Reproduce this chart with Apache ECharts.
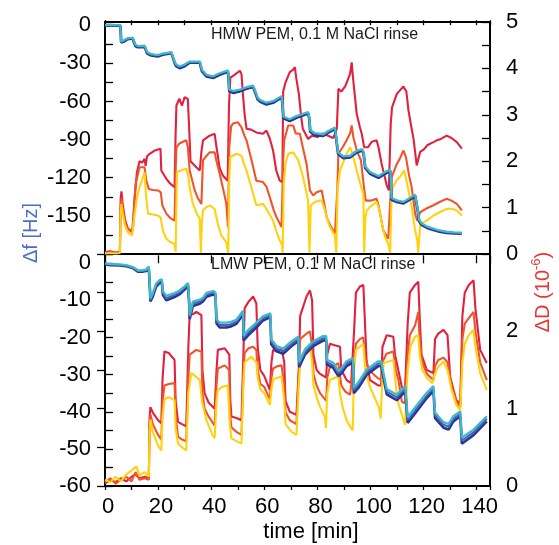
<!DOCTYPE html>
<html>
<head>
<meta charset="utf-8">
<script src="https://cdn.jsdelivr.net/npm/echarts@6/dist/echarts.min.js"></script>
<style>
html,body{margin:0;padding:0;background:#fff;}
#chart{width:559px;height:545px;}
</style>
</head>
<body>
<div id="chart"></div>
<script>
// ---------- DATA (time [min], value) ----------
var xTicks = [0, 20, 40, 60, 80, 100, 120, 140];

// Top panel (HMW PEM): frequency shift [Hz]
var topFreqNavy = [[0,-0.3],[2,-0.2],[4,-0.3],[5.8,-0.3],[6.1,-13.5],[6.5,-15],[7.4,-12.5],[8.5,-11],[10.4,-10.3],[10.8,-12.8],[11.5,-16.5],[12.4,-17.3],[14.9,-17],[15.3,-19],[15.8,-22],[17.4,-23.8],[19.9,-24.6],[21.8,-23.2],[25,-22],[25.5,-22.8],[26.3,-30],[26.8,-32.2],[28.1,-33.8],[30,-32.2],[31.9,-29.5],[35.7,-29.3],[36,-32],[36.5,-36.2],[38.2,-40.3],[40.7,-41.5],[43.2,-39],[46.3,-36.6],[46.5,-41],[46.8,-51.8],[48.2,-53.2],[50.8,-52],[53,-50.2],[55.8,-48.6],[56.2,-49],[56.8,-54.2],[57.5,-58.2],[58.5,-60.3],[60.8,-62.4],[63.3,-61],[66.5,-56.8],[66.8,-61],[67.2,-73.2],[69.6,-75.4],[72.1,-72.8],[76.5,-69.4],[76.9,-73],[77.3,-83.8],[79,-86.4],[82.2,-87],[84.1,-84.4],[86.6,-81.6],[87.3,-83],[87.8,-101.2],[89.7,-104.5],[92.3,-104],[94.8,-100],[96.9,-98.5],[97.4,-101],[98,-112.2],[99.8,-116.8],[103,-120],[105.5,-116.8],[107.4,-114.6],[107.6,-119],[107.9,-137.2],[109.9,-139],[112.4,-140.2],[114.3,-137.8],[116.8,-134.4],[117.4,-134.6],[117.8,-146],[118.3,-154.2],[119.3,-157.2],[121.5,-159.6],[123.7,-161],[126,-162.4],[128.7,-163.3],[131.5,-163.8],[134.4,-164]];
var topFreqCyan = [[0,0],[2,0.2],[4,0],[5.8,0],[6.1,-13],[6.5,-14],[7.4,-11.5],[8.5,-10.3],[10.4,-9.8],[10.8,-12],[11.5,-15.5],[12.4,-16.4],[14.9,-16.2],[15.3,-18],[15.8,-21],[17.4,-22.8],[19.9,-23.6],[21.8,-22.3],[25,-21.3],[25.5,-22],[26.3,-29],[26.8,-31],[28.1,-32.5],[30,-31],[31.9,-28.6],[35.7,-28.6],[36,-31],[36.5,-35],[38.2,-39],[40.7,-40.2],[43.2,-37.8],[46.3,-35.6],[46.5,-40],[46.8,-50.5],[48.2,-51.8],[50.8,-50.7],[53,-49],[55.8,-47.6],[56.2,-48],[56.8,-53],[57.5,-57],[58.5,-59],[60.8,-61],[63.3,-59.8],[66.5,-55.8],[66.8,-60],[67.2,-72],[69.6,-74],[72.1,-71.5],[76.5,-68.4],[76.9,-72],[77.3,-82.5],[79,-85],[82.2,-85.8],[84.1,-83.2],[86.6,-80.6],[87.3,-82],[87.8,-100],[89.7,-103.2],[92.3,-102.7],[94.8,-98.8],[96.9,-97.5],[97.4,-100],[98,-111],[99.8,-115.5],[103,-118.7],[105.5,-115.6],[107.4,-113.6],[107.6,-118],[107.9,-136],[109.9,-137.8],[112.4,-139],[114.3,-136.6],[116.8,-133.3],[117.4,-133.5],[117.8,-145],[118.3,-153],[119.3,-156],[121.5,-158.5],[123.7,-160],[126,-161.5],[128.7,-162.5],[131.5,-163],[134.4,-163.3]];

// Top panel: dissipation shift [1e-6]
var topDissRed = [[0,0.04],[2,0.06],[4,0.03],[5.6,0.05],[5.9,1.2],[6.2,1.35],[6.6,1.1],[7.5,0.75],[8.6,0.55],[10.2,0.47],[10.6,0.6],[11.1,1.15],[12,1.75],[13,2.0],[14,1.97],[14.9,2.05],[15.3,1.9],[15.8,2.1],[16.8,2.16],[18.7,2.23],[20.9,2.27],[21.2,1.8],[23.1,1.62],[24.5,1.52],[26.2,1.44],[26.6,2.6],[26.9,3.2],[28,3.35],[29,3.2],[30,3.38],[31.2,3.34],[31.7,2.7],[32.2,2.0],[34.4,1.87],[35.7,1.8],[36.3,2.2],[36.9,2.45],[39.4,2.55],[41.3,2.59],[42,2.3],[43.2,1.85],[44.4,1.69],[46.2,1.58],[46.7,3.2],[47.2,3.8],[48.5,3.85],[50.8,3.95],[51.4,3.88],[52,3.4],[52.6,3.0],[53.3,2.7],[55,2.68],[57,2.62],[59.5,2.59],[60.8,2.66],[62,2.5],[63.3,2.23],[64.5,1.8],[65.8,1.58],[66.8,1.55],[67.1,3.5],[68,3.7],[69.6,3.92],[71,3.98],[71.5,4.03],[72,3.8],[73,3.45],[73.8,3.0],[74.5,2.7],[76.5,2.48],[78,2.55],[80,2.52],[82,2.6],[84,2.55],[86,2.5],[87.3,2.7],[87.9,3.56],[89,3.5],[90.5,3.62],[92.3,3.88],[92.9,4.13],[93.4,3.8],[94.8,3.02],[96,2.73],[96.7,2.59],[97.6,2.3],[99,2.3],[100.5,2.42],[102.3,2.45],[103,2.3],[104.2,1.94],[106.1,1.48],[106.9,1.37],[107.6,2.8],[108.1,3.16],[109.9,3.45],[111,3.52],[112.4,3.61],[113.5,3.5],[114.3,3.09],[115.5,2.7],[116.2,2.48],[117.4,1.91],[118.7,2.2],[120,2.25],[121.5,2.35],[123.7,2.41],[125,2.45],[126.5,2.48],[128.7,2.55],[130.5,2.5],[132.5,2.41],[134.4,2.27]];
var topDissOrange = [[0,0.02],[2,0.04],[4,0.02],[5.6,0.03],[5.9,1.0],[6.2,1.2],[6.6,1.0],[7.5,0.7],[8.6,0.54],[10.2,0.5],[10.7,0.8],[11.5,1.5],[13,1.87],[14.9,1.87],[15.5,1.6],[16.5,1.4],[18,1.38],[20,1.37],[21,1.33],[21.6,1.05],[23.1,0.87],[24.5,0.78],[26.2,0.72],[26.6,1.8],[26.9,2.3],[28,2.38],[30.6,2.45],[31.2,2.3],[31.9,1.8],[33.8,1.37],[35,1.2],[36.3,1.08],[36.9,2.02],[38,2.1],[39.4,2.19],[41.3,2.19],[42,2.0],[43.2,1.73],[44.5,1.4],[45.7,1.08],[46.3,0.58],[46.8,2.3],[47.5,2.75],[48.2,2.81],[50,2.84],[51.4,2.73],[52.5,2.55],[53.3,2.45],[55.2,2.02],[57,1.58],[59.5,1.55],[60.8,1.45],[62.1,1.22],[63.5,0.95],[64.6,0.79],[66.5,0.58],[67.1,2.0],[67.5,2.45],[69,2.77],[70.9,2.77],[71.8,2.6],[73.4,2.59],[74.5,2.3],[75.9,1.94],[77.2,1.37],[78.4,1.26],[79.7,1.33],[81.6,1.37],[82.2,1.2],[83.5,0.79],[85,0.6],[86.6,0.44],[87.5,1.4],[87.9,2.16],[89.5,2.3],[91,2.45],[92.3,2.6],[92.9,2.77],[93.6,2.5],[95,2.2],[96.4,2.02],[97.4,1.5],[98.2,1.15],[100,1.15],[102.3,1.19],[103,1.05],[104.8,0.51],[106.7,0.33],[107.5,1.2],[108,1.66],[109.9,1.94],[111,2.05],[112.4,2.23],[113.3,2.1],[114.5,1.7],[115.5,1.44],[116.8,0.87],[117.6,0.72],[118.7,0.9],[121,0.98],[123.7,1.05],[126,1.12],[128.7,1.19],[130.5,1.15],[132.5,1.08],[134.4,0.94]];
var topDissYellow = [[0,0.01],[2,0.02],[4,0.01],[5.6,0.02],[5.9,0.9],[6.2,1.08],[6.6,0.9],[7.5,0.62],[8.6,0.47],[10.2,0.4],[10.8,0.7],[12,1.2],[13,1.44],[14,1.6],[14.9,1.76],[15.4,1.3],[16.2,0.87],[18,0.85],[20,0.83],[21,0.78],[21.8,0.5],[23.1,0.33],[24.5,0.26],[26.2,0.22],[26.6,0.05],[27.1,1.76],[28.5,1.8],[30.6,1.84],[31.3,1.7],[32,1.4],[33.1,1.08],[34.5,0.88],[35.7,0.76],[36.1,0.02],[36.5,0.7],[36.9,0.94],[38,1.0],[39.4,1.05],[41.3,0.97],[42.5,0.65],[43.8,0.4],[45.7,0.25],[46.4,0.02],[46.8,1.6],[47.2,2.09],[49.5,2.16],[51.4,2.12],[52.3,1.95],[53.3,1.8],[55.8,1.3],[57,1.05],[59.5,1.08],[61,0.95],[63.3,0.72],[64.5,0.5],[65.8,0.29],[66.7,0.2],[66.9,0.02],[67.3,1.5],[68,1.95],[69,2.16],[70.9,2.19],[72.8,2.02],[74.6,1.66],[76.5,1.15],[77,0.03],[77.5,1.05],[79,1.12],[80.5,1.15],[81.6,1.15],[82.8,0.94],[84.7,0.58],[86.6,0.4],[87.1,0.02],[87.6,1.4],[88.5,1.8],[91,2.16],[92.3,2.3],[93,2.2],[94.8,1.8],[96.5,1.44],[97.3,1.3],[97.6,0.03],[98.1,0.8],[98.6,0.94],[100.5,1.05],[102.3,1.12],[103.3,0.95],[104.5,0.6],[105.5,0.36],[106.7,0.22],[107.4,0.02],[107.9,1.2],[108.4,1.44],[110,1.6],[111.1,1.66],[112.6,1.8],[113.5,1.6],[115.5,1.01],[116.8,0.51],[117.6,0.3],[118,0.03],[118.7,0.65],[121.2,0.72],[123.7,0.83],[126,0.9],[128.7,0.97],[130.5,0.98],[132.5,0.94],[134.4,0.83]];

// Bottom panel (LMW PEM): frequency shift [Hz]
var botFreqNavy = [[0,-0.3],[2,-0.5],[5.5,-0.6],[8,-0.8],[10.5,-1.3],[12.4,-2.3],[14,-2.3],[15.5,-2.1],[16.5,-1.3],[16.9,-6.8],[17.1,-10.3],[18,-9],[19.3,-6.3],[20.6,-5.3],[21.4,-5.1],[21.8,-8.5],[23.1,-10],[26.2,-9.1],[28,-8.4],[30,-7.1],[31.3,-6.2],[31.7,-11],[31.9,-15],[33.1,-11.5],[35.7,-10.9],[36.9,-10.3],[38.2,-9],[40.7,-8.4],[41.6,-8.7],[42,-16.2],[43.2,-17.3],[45.7,-17.3],[47.5,-17],[49.5,-16.3],[52,-13.8],[52.2,-20.8],[53.9,-19.4],[57,-17.3],[59.5,-15.4],[62.3,-14.5],[62.6,-21.8],[64.6,-23.7],[67.1,-24.4],[70.3,-22.3],[72.8,-21],[73.1,-28],[75.3,-24.6],[78.4,-22.3],[82.2,-20.8],[83.3,-20.7],[83.6,-27.3],[86,-28.2],[87.9,-30.4],[89,-29.7],[91,-27.7],[93.4,-26.7],[93.7,-35],[95.4,-33.6],[98.6,-30],[102.9,-27.7],[104,-27.6],[106.1,-35.3],[109.9,-36.9],[113.1,-34.5],[113.7,-34.1],[114,-43],[116.2,-41],[121.2,-36.3],[123.7,-34.4],[124.3,-41.7],[127.5,-44.3],[129.4,-44.8],[131.2,-42.6],[133.8,-41.2],[134.4,-48.6],[138.8,-46.3],[143.8,-42.6]];
var botFreqBlue = [[0,-0.15],[2,-0.35],[5.5,-0.45],[8,-0.65],[10.5,-1.15],[12.4,-2.1],[14,-2.1],[15.5,-1.9],[16.5,-1.1],[16.9,-6.4],[17.1,-9.9],[18,-8.5],[19.3,-5.8],[20.6,-4.9],[21.4,-4.7],[21.8,-8],[23.1,-9.4],[26.2,-8.5],[28,-7.9],[30,-6.6],[31.3,-5.7],[31.7,-10.5],[31.9,-14.5],[33.1,-10.9],[35.7,-10.3],[36.9,-9.8],[38.2,-8.5],[40.7,-7.9],[41.6,-8.2],[42,-15.6],[43.2,-16.6],[45.7,-16.6],[47.5,-16.4],[49.5,-15.7],[52,-13.3],[52.2,-20.1],[53.9,-18.7],[57,-16.6],[59.5,-14.8],[62.3,-14],[62.6,-21.1],[64.6,-23],[67.1,-23.7],[70.3,-21.6],[72.8,-20.4],[73.1,-27.2],[75.3,-23.9],[78.4,-21.6],[82.2,-20.2],[83.3,-20.1],[83.6,-26.6],[86,-27.5],[87.9,-29.7],[89,-29],[91,-27],[93.4,-26.1],[93.7,-34.2],[95.4,-32.8],[98.6,-29.3],[102.9,-27],[104,-27],[106.1,-34.6],[109.9,-36.1],[113.1,-33.8],[113.7,-33.4],[114,-42.2],[116.2,-40.2],[121.2,-35.6],[123.7,-33.7],[124.3,-40.9],[127.5,-43.5],[129.4,-44],[131.2,-41.9],[133.8,-40.5],[134.4,-47.8],[138.8,-45.5],[143.8,-41.9]];
var botFreqCyan = [[0,0],[2,-0.2],[5.5,-0.3],[8,-0.5],[10.5,-1.0],[12.4,-1.9],[14,-1.9],[15.5,-1.7],[16.5,-0.9],[16.9,-6],[17.1,-9.5],[18,-8],[19.3,-5.4],[20.6,-4.5],[21.4,-4.3],[21.8,-7.5],[23.1,-8.8],[26.2,-8],[28,-7.4],[30,-6.2],[31.3,-5.3],[31.7,-10],[31.9,-14],[33.1,-10.3],[35.7,-9.8],[36.9,-9.3],[38.2,-8],[40.7,-7.5],[41.6,-7.8],[42,-15],[43.2,-16],[45.7,-16],[47.5,-15.8],[49.5,-15.2],[52,-12.8],[52.2,-19.5],[53.9,-18],[57,-16],[59.5,-14.3],[62.3,-13.5],[62.6,-20.5],[64.6,-22.3],[67.1,-23],[70.3,-21],[72.8,-19.8],[73.1,-26.5],[75.3,-23.2],[78.4,-21],[82.2,-19.6],[83.3,-19.6],[83.6,-26],[86,-26.8],[87.9,-29],[89,-28.3],[91,-26.4],[93.4,-25.5],[93.7,-33.5],[95.4,-32.1],[98.6,-28.6],[102.9,-26.4],[104,-26.4],[106.1,-33.9],[109.9,-35.4],[113.1,-33.1],[113.7,-32.8],[114,-41.5],[116.2,-39.4],[121.2,-34.9],[123.7,-33.1],[124.3,-40.2],[127.5,-42.8],[129.4,-43.3],[131.2,-41.2],[133.8,-39.9],[134.4,-47],[138.8,-44.8],[143.8,-41.2]];

// Bottom panel: dissipation shift [1e-6]
var botDissRed = [[0,0.03],[2,0.08],[4,0.05],[6,0.1],[8,0.06],[10,0.12],[11.5,0.15],[13,0.1],[15,0.12],[16.5,0.1],[16.8,0.9],[17.1,1.02],[18,0.95],[20,0.85],[21.2,0.81],[21.7,1.4],[22.4,1.74],[24,1.72],[26.2,1.63],[26.6,1.1],[27.5,0.83],[29,0.8],[30.6,0.77],[31.4,1.8],[31.9,2.23],[33,2.22],[34.4,2.25],[36.3,2.21],[36.7,1.5],[37.5,1.2],[39,1.08],[41.3,1.0],[42,1.5],[42.5,1.76],[45.1,1.78],[46.8,1.7],[47.2,1.1],[47.6,0.9],[49.5,0.88],[51.4,0.85],[52.2,1.8],[52.6,2.3],[54,2.38],[55.8,2.45],[57,2.36],[57.5,1.8],[58.5,1.5],[60,1.42],[62.1,1.24],[62.7,1.6],[63.3,1.76],[65,1.74],[66.5,1.78],[67.5,1.6],[68,1.1],[69.6,0.96],[72.1,0.92],[73,1.5],[73.5,2.2],[75.9,2.45],[77.2,2.53],[78,2.4],[78.5,1.7],[79.7,1.5],[81,1.45],[83.3,1.4],[83.7,1.7],[84.7,1.84],[86.5,1.82],[88.5,1.8],[89,1.5],[91,1.37],[92.7,1.33],[93.8,2.0],[94.5,2.5],[96,2.58],[97.3,2.6],[97.8,2.2],[98.5,1.63],[99.8,1.37],[102.9,1.3],[104,1.3],[104.5,1.8],[106.1,1.95],[108.6,1.93],[109.2,1.7],[109.9,1.59],[111.8,1.28],[113,1.24],[114,2.1],[114.8,2.5],[116.8,2.6],[118,2.64],[118.5,2.2],[119.2,1.7],[121.2,1.5],[123.7,1.46],[124.3,1.9],[125.5,1.97],[127.5,2.02],[129,1.95],[130,1.41],[132.3,1.11],[133.8,1.07],[134.6,2.2],[135.5,2.5],[137,2.6],[138.8,2.66],[139.5,2.3],[141.3,1.76],[143.8,1.59]];
var botDissOrange = [[0,0.05],[2,0.1],[4,0.03],[6,0.08],[8,0.12],[10,0.06],[11.5,0.18],[13,0.08],[15,0.1],[16.5,0.08],[16.8,0.8],[17.1,0.93],[18,0.8],[20,0.66],[21.2,0.6],[21.7,1.1],[22.4,1.3],[24,1.32],[26.2,1.33],[26.6,0.9],[27.5,0.64],[29,0.6],[30.6,0.58],[31.4,1.4],[31.9,1.7],[34.4,1.76],[36.3,1.74],[36.7,1.2],[37.5,1.0],[39,0.9],[41.3,0.78],[42,1.3],[42.5,1.52],[45.1,1.56],[46.8,1.5],[47.2,0.9],[47.6,0.76],[49.5,0.7],[51.4,0.66],[52.2,1.5],[52.6,1.72],[54,1.78],[55.8,1.8],[57,1.76],[57.5,1.5],[58.5,1.32],[60,1.28],[62.1,1.12],[62.7,1.4],[63.3,1.52],[65,1.55],[66.5,1.56],[67.5,1.3],[68,0.95],[69.6,0.85],[72.1,0.8],[73,1.5],[73.5,1.9],[75.9,1.97],[77.2,2.0],[78,1.8],[78.5,1.45],[79.7,1.3],[81,1.2],[83.3,1.1],[83.7,1.4],[84.7,1.54],[86.5,1.56],[87.9,1.59],[89,1.3],[90.5,1.22],[92.3,1.18],[93.8,1.6],[94.5,1.84],[96,1.9],[97.3,1.92],[98,1.65],[99,1.54],[100,1.48],[102.9,1.39],[104,1.38],[104.5,1.6],[106,1.71],[108.6,1.74],[109.5,1.5],[110.5,1.37],[111.8,1.09],[113,1.07],[114,1.7],[114.8,1.95],[116.8,2.08],[118,2.25],[118.5,1.9],[119.5,1.6],[121.2,1.45],[123.7,1.37],[124.3,1.55],[125.5,1.63],[127.5,1.66],[129,1.6],[130.5,1.3],[132.3,1.1],[133.8,1.02],[134.6,1.9],[135.5,2.1],[137,2.17],[138.8,2.25],[139.5,2.0],[141.3,1.6],[143.8,1.37]];
var botDissYellow = [[0,0.08],[2,0.05],[4,0.12],[6,0.06],[8,0.15],[10,0.2],[11.8,0.25],[13,0.14],[15,0.18],[16.5,0.12],[16.8,0.7],[17.1,0.86],[18,0.7],[20,0.52],[21.2,0.46],[21.7,0.9],[22.4,1.12],[24,1.15],[26.2,1.11],[26.6,0.75],[27.5,0.55],[29,0.5],[30.6,0.46],[31.4,1.2],[32.5,1.46],[34,1.42],[35.7,1.37],[36.5,1.1],[37.5,0.95],[38.2,0.85],[40.5,0.66],[41.3,0.62],[42,1.1],[42.5,1.24],[44,1.28],[46.3,1.3],[47,0.8],[47.6,0.62],[49.5,0.58],[51.4,0.55],[52.2,1.4],[52.6,1.6],[55,1.67],[57,1.6],[57.5,1.4],[58.5,1.25],[60,1.2],[62.1,1.05],[62.7,1.25],[63.3,1.38],[65,1.4],[66.5,1.42],[67.5,1.1],[68,0.8],[70.3,0.7],[72.1,0.66],[73,1.3],[73.5,1.6],[75.9,1.75],[77.2,1.8],[78,1.6],[78.5,1.3],[79.7,1.15],[81,1.02],[82.8,0.9],[83.2,0.75],[83.7,1.2],[84.7,1.37],[86.5,1.4],[87.9,1.41],[88.5,1.2],[89.5,1.02],[91,0.85],[92.3,0.77],[93.3,0.72],[93.8,1.5],[94.5,1.76],[96,1.8],[97.3,1.84],[98,1.5],[99.8,1.28],[101.5,1.15],[103.3,1.0],[103.8,0.87],[104.5,1.4],[105,1.59],[108.6,1.63],[109.5,1.3],[110.5,1.07],[112,0.9],[113,0.79],[114,1.5],[115,1.8],[116.7,1.93],[118,1.95],[118.5,1.7],[119.5,1.5],[121.2,1.4],[123.3,1.33],[124.3,1.45],[125.5,1.54],[127.5,1.61],[129,1.5],[130.5,1.25],[132.3,1.05],[133.8,0.98],[134.6,1.6],[135.5,1.84],[137,1.95],[138.8,2.02],[139.5,1.8],[141.3,1.46],[143.8,1.24]];

// ---------- CHART ----------
var FONT = '"Liberation Sans", Arial, Helvetica, sans-serif';
var C = {
  navy: '#2b3491', blue: '#4660b8', cyan: '#3fb8c9',
  red: '#e0213f', orange: '#f0552a', yellow: '#ffd20f'
};
var chart = echarts.init(document.getElementById('chart'), null, {renderer: 'canvas'});

function yAxisCfg(grid, pos, min, max, interval, fmt) {
  return {
    type: 'value', gridIndex: grid, position: pos, min: min, max: max, interval: interval,
    axisLine: {show: false},
    splitLine: {show: false},
    axisTick: {show: true, inside: true, length: 8, lineStyle: {color: '#000', width: 1.3}},
    axisLabel: {show: true, color: '#000', fontSize: 22, fontFamily: FONT, margin: pos === 'left' ? 14 : 16, formatter: fmt}
  };
}

function line(name, data, xi, yi, color, width, z) {
  return {
    name: name, type: 'line', data: data, xAxisIndex: xi, yAxisIndex: yi,
    showSymbol: false, symbol: 'none', smooth: false, animation: false, z: z,
    lineStyle: {color: color, width: width}
  };
}

var option = {
  animation: false,
  backgroundColor: '#fff',
  grid: [
    {left: 105, top: 22, width: 385, height: 232, show: true, borderColor: '#000', borderWidth: 2, backgroundColor: 'transparent'},
    {left: 105, top: 254, width: 385, height: 232, show: true, borderColor: '#000', borderWidth: 2, backgroundColor: 'transparent'}
  ],
  xAxis: [
    {type: 'value', gridIndex: 0, min: 0, max: 145, interval: 10,
     axisLine: {show: false}, splitLine: {show: false},
     axisTick: {show: true, inside: true, length: 5, lineStyle: {color: '#000', width: 1.3}},
     axisLabel: {show: false}},
    {type: 'value', gridIndex: 1, min: 0, max: 145, interval: 20,
     axisLine: {show: false}, splitLine: {show: false},
     axisTick: {show: true, inside: true, length: 8, lineStyle: {color: '#000', width: 1.3}},
     axisLabel: {show: true, color: '#000', fontSize: 22, fontFamily: FONT, margin: 10, padding: [0, 0, 0, 6],
       formatter: function (v) { return xTicks.indexOf(v) >= 0 ? String(v) : ''; }}},
    {type: 'value', gridIndex: 1, min: 0, max: 145, interval: 10,
     axisLine: {show: false}, splitLine: {show: false},
     axisTick: {show: true, inside: true, length: 4, lineStyle: {color: '#000', width: 1.3}},
     axisLabel: {show: false}}
  ],
  yAxis: [
    yAxisCfg(0, 'left', -180, 2.5, 15, function (v) { return (v <= 0 && v > -180 && v % 30 === 0) ? String(v) : ''; }),
    yAxisCfg(0, 'right', 0, 5, 0.5, function (v) { return (Math.abs(v - Math.round(v)) < 1e-6) ? String(Math.round(v)) : ''; }),
    yAxisCfg(1, 'left', -60, 2.5, 5, function (v) { return (v <= 0 && v % 10 === 0) ? String(v) : ''; }),
    yAxisCfg(1, 'right', 0, 3, 0.5, function (v) { return (Math.abs(v - Math.round(v)) < 1e-6 && v < 2.5) ? String(Math.round(v)) : ''; })
  ],
  series: [
    line('top D red', topDissRed, 0, 1, C.red, 2.1, 2),
    line('top D orange', topDissOrange, 0, 1, C.orange, 2.1, 3),
    line('top D yellow', topDissYellow, 0, 1, C.yellow, 2.1, 4),
    line('top f navy', topFreqNavy, 0, 0, C.navy, 2.8, 5),
    line('top f cyan', topFreqCyan, 0, 0, C.cyan, 2.3, 6),
    line('bot D red', botDissRed, 1, 3, C.red, 2.1, 2),
    line('bot D orange', botDissOrange, 1, 3, C.orange, 2.1, 3),
    line('bot D yellow', botDissYellow, 1, 3, C.yellow, 2.1, 4),
    line('bot f navy', botFreqNavy, 1, 2, C.navy, 2.6, 5),
    line('bot f blue', botFreqBlue, 1, 2, C.blue, 2.0, 6),
    line('bot f cyan', botFreqCyan, 1, 2, C.cyan, 2.3, 7)
  ],
  graphic: [
    {type: 'text', left: 211, top: 27, z: 100,
     style: {text: 'HMW PEM, 0.1 M NaCl rinse', fill: '#1a1a1a', font: '16px ' + FONT}},
    {type: 'text', left: 211, top: 257, z: 100,
     style: {text: 'LMW PEM, 0.1 M NaCl rinse', fill: '#1a1a1a', font: '16px ' + FONT}},
    {type: 'text', x: 31, y: 233, rotation: Math.PI / 2, z: 100,
     style: {text: 'Δf [Hz]', fill: '#4a6ec6', font: '20px ' + FONT, textAlign: 'center', textVerticalAlign: 'middle'}},
    {type: 'text', x: 543, y: 292, rotation: Math.PI / 2, z: 100,
     style: {text: 'ΔD (10{sup|-6})', fill: '#ec3434', font: '20px ' + FONT, textAlign: 'center', textVerticalAlign: 'middle',
       rich: {sup: {fontSize: 13, fontFamily: FONT, fill: '#ec3434', padding: [0, 0, 14, 0]}}}},
    {type: 'text', x: 311, y: 532, z: 100,
     style: {text: 'time [min]', fill: '#000', font: '22px ' + FONT, textAlign: 'center', textVerticalAlign: 'middle'}}
  ]
};
chart.setOption(option);
</script>
</body>
</html>
